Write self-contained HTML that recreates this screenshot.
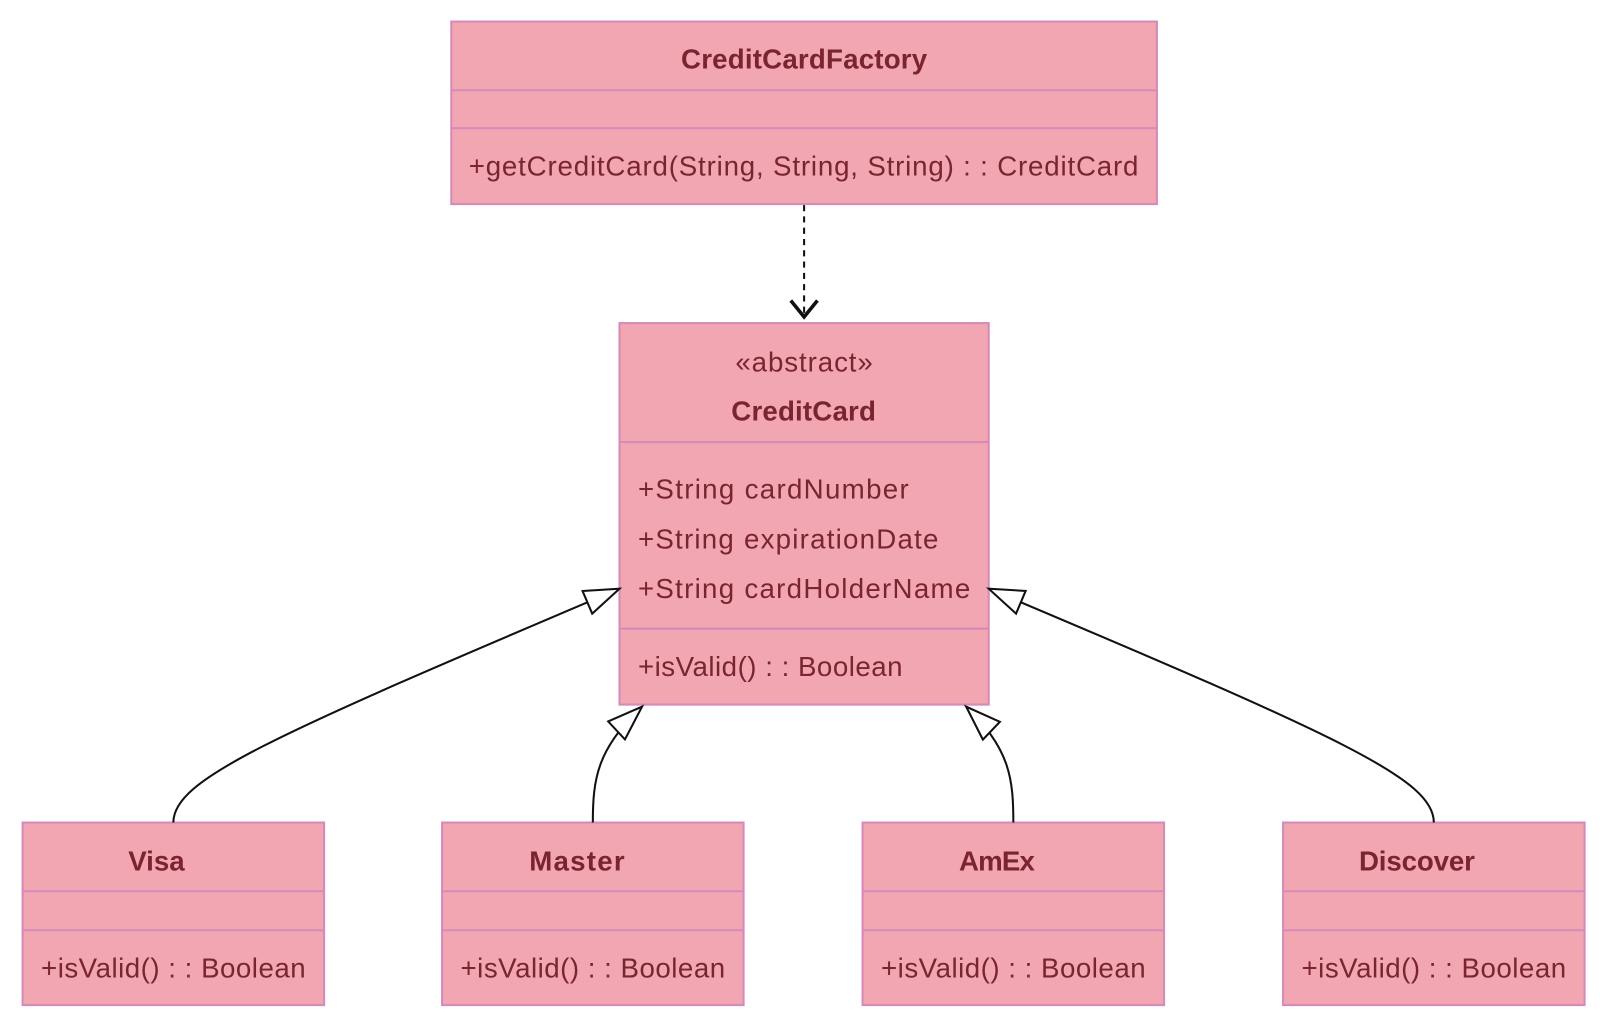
<!DOCTYPE html>
<html><head><meta charset="utf-8"><style>html,body{margin:0;padding:0;background:#fff}svg{display:block}</style></head>
<body>
<svg width="1600" height="1021" viewBox="0 0 1560 995.5" xmlns="http://www.w3.org/2000/svg" font-family="Liberation Sans, sans-serif">
<defs>
<marker id="tri" markerWidth="40" markerHeight="30" refX="36" refY="14" orient="auto" markerUnits="userSpaceOnUse">
<path d="M2,2 L36,14 L2,26 Z" fill="#fff" stroke="#111" stroke-width="2"/>
</marker>
</defs>
<g fill="#f1a6b2" stroke="#d48abb" stroke-width="2">
<rect x="440" y="21" width="688" height="178"/>
<line x1="440" y1="88" x2="1128" y2="88"/><line x1="440" y1="125" x2="1128" y2="125"/>
<rect x="604" y="315" width="360" height="372"/>
<line x1="604" y1="431" x2="964" y2="431"/><line x1="604" y1="613" x2="964" y2="613"/>
<rect x="22" y="802" width="294" height="178"/><line x1="22" y1="869" x2="316" y2="869"/><line x1="22" y1="907" x2="316" y2="907"/>
<rect x="431" y="802" width="294" height="178"/><line x1="431" y1="869" x2="725" y2="869"/><line x1="431" y1="907" x2="725" y2="907"/>
<rect x="841" y="802" width="294" height="178"/><line x1="841" y1="869" x2="1135" y2="869"/><line x1="841" y1="907" x2="1135" y2="907"/>
<rect x="1251" y="802" width="294" height="178"/><line x1="1251" y1="869" x2="1545" y2="869"/><line x1="1251" y1="907" x2="1545" y2="907"/>
</g>
<g fill="none" stroke="#111" stroke-width="2">
<line x1="784" y1="200" x2="784" y2="310" stroke-dasharray="6,5"/>
<path d="M771,293 L784,309 L797,293" stroke-width="3.5"/>
<path d="M169,802 C169,760 260,720 604,574" marker-end="url(#tri)"/>
<path d="M578,802 C578,760 582,730 626,689" marker-end="url(#tri)"/>
<path d="M988,802 C988,760 985,730 942,689" marker-end="url(#tri)"/>
<path d="M1398,802 C1398,760 1310,720 964,574" marker-end="url(#tri)"/>
</g>
<g fill="#7a2430" font-size="27">
<g font-weight="bold">
<text x="664" y="67" textLength="240">CreditCardFactory</text>
<text x="713" y="410" textLength="141">CreditCard</text>
<text x="125" y="849" textLength="55">Visa</text>
<text x="516" y="849" textLength="93">Master</text>
<text x="935" y="849" textLength="74">AmEx</text>
<text x="1325" y="849" textLength="113">Discover</text>
</g>
<text x="717" y="362" textLength="134">«abstract»</text>
<text x="457" y="171" textLength="653">+getCreditCard(String, String, String) : : CreditCard</text>
<text x="622" y="486" textLength="264">+String cardNumber</text>
<text x="622" y="535" textLength="293">+String expirationDate</text>
<text x="622" y="583" textLength="324">+String cardHolderName</text>
<text x="622" y="659" textLength="258">+isValid() : : Boolean</text>
<text x="40" y="953" textLength="258">+isValid() : : Boolean</text>
<text x="449" y="953" textLength="258">+isValid() : : Boolean</text>
<text x="859" y="953" textLength="258">+isValid() : : Boolean</text>
<text x="1269" y="953" textLength="258">+isValid() : : Boolean</text>
</g>
</svg>
</body></html>
